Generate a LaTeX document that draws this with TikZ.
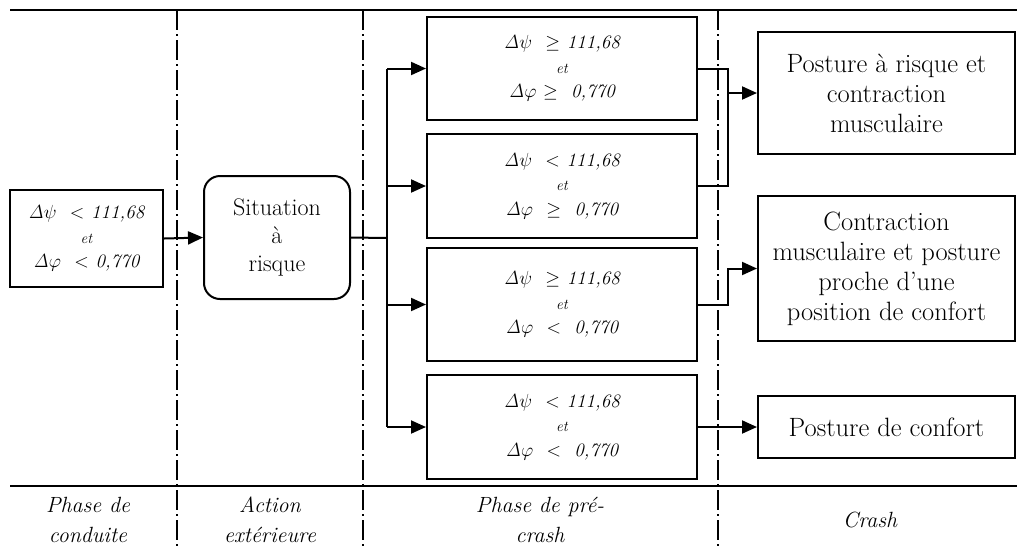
\RequirePackage{fix-cm}
\documentclass[tikz,border=0pt]{standalone}
\usepackage[no-math]{fontspec}
\usetikzlibrary{arrows.meta}
\begin{document}
\begin{tikzpicture}[x=1pt,y=-1pt,
  box/.style={draw,line width=2pt,align=center,inner sep=0pt},
  cond/.style={box,minimum width=270pt,font=\fontsize{19}{24.5}\selectfont\itshape},
  res/.style={box,minimum width=257pt,font=\fontsize{26.5}{30}\selectfont},
  conn/.style={line width=2pt},
  arr/.style={conn,-{Triangle[length=15pt,width=13pt]}},
  sep/.style={line width=1.6pt,dash pattern=on 20pt off 4pt on 1.5pt off 4.5pt},
  rule/.style={line width=2.4pt},
  lab/.style={font=\fontsize{22}{30}\selectfont\itshape,align=center}]
\useasboundingbox (0,0) rectangle (1017,550);
% frame rules
\draw[rule] (10,10) -- (1017,10);
\draw[rule] (10,486) -- (1017,486);
\foreach \x in {177,363,718} \draw[sep] (\x,10) -- (\x,550);
% nodes
\node[cond,minimum width=153pt,minimum height=97pt] (c0) at (86.5,238.5)
  {$\mathit{\Delta}\psi$\ \ $<$ 111,68\\{\fontsize{15}{24}\selectfont et}\\$\mathit{\Delta}\varphi$\ \ $<$ 0,770};
\node[box,rounded corners=16pt,minimum width=146pt,minimum height=123pt,
  font=\fontsize{24}{28}\selectfont] (sit) at (277,237.5) {Situation\\à\\risque};
\node[cond,minimum height=103pt] (c1) at (562,68.5)
  {$\mathit{\Delta}\psi$\ \ $\geq$ 111,68\\{\fontsize{15}{24}\selectfont et}\\$\mathit{\Delta}\varphi$ $\geq$\ \ 0,770};
\node[cond,minimum height=104pt] (c2) at (562,186)
  {$\mathit{\Delta}\psi$\ \ $<$ 111,68\\{\fontsize{15}{24}\selectfont et}\\$\mathit{\Delta}\varphi$\ \ $\geq$\ \ 0,770};
\node[cond,minimum height=113pt] (c3) at (562,304.5)
  {$\mathit{\Delta}\psi$\ \ $\geq$ 111,68\\{\fontsize{15}{24}\selectfont et}\\$\mathit{\Delta}\varphi$\ \ $<$\ \ 0,770};
\node[cond,minimum height=104pt] (c4) at (562,427)
  {$\mathit{\Delta}\psi$\ \ $<$ 111,68\\{\fontsize{15}{24}\selectfont et}\\$\mathit{\Delta}\varphi$\ \ $<$\ \ 0,770};
\node[res,minimum height=122pt] (r1) at (886.5,93)
  {Posture à risque et\\contraction\\musculaire};
\node[res,minimum height=145pt] (r2) at (886.5,268.5)
  {Contraction\\musculaire et posture\\proche d’une\\position de confort};
\node[res,minimum height=62pt] (r3) at (886.5,427) {Posture de confort};
% phase labels
\node[lab] (l1) at (88,520) {Phase de\\conduite};
\node[lab] (l2) at (270,520) {Action\\extérieure};
\node[lab] (l3) at (540,520) {Phase de pré-\\crash};
\node[lab] (l4) at (870,520) {Crash};
% connectors
\draw[arr] (c0.east) -- (sit.west);
\coordinate (br) at (387,238);
\coordinate (jx) at (728,0);
\draw[conn] (sit.east) -- (br);
\draw[conn] (br |- c1.west) -- (br |- c4.west);
\foreach \n in {c1,c2,c3,c4} \draw[arr] (br |- \n.west) -- (\n.west);
\draw[conn] (c1.east) -| (jx |- c2.east) -- (c2.east);
\draw[arr] (jx |- r1.west) -- (r1.west);
\draw[arr] (c3.east) -| (jx |- r2.west) -- (r2.west);
\draw[arr] (c4.east) -- (r3.west);
\end{tikzpicture}
\end{document}
